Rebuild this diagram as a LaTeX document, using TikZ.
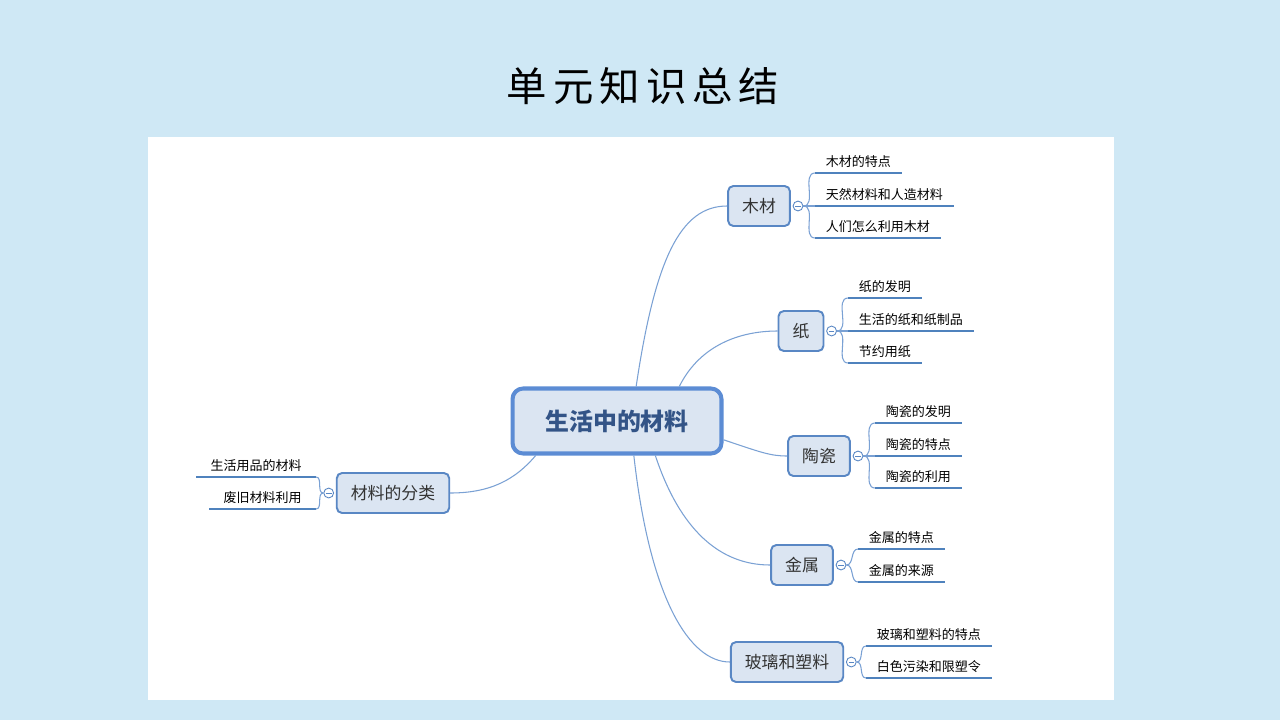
\documentclass[tikz,border=0pt]{standalone}
\usepackage{fontspec}
\setmainfont{Noto Sans CJK SC}
\newfontfamily\titlefont[LetterSpace=15]{Noto Sans CJK SC}
\usetikzlibrary{positioning}
\definecolor{skyback}{rgb}{0.81,0.91,0.96}
\definecolor{paleblue}{rgb}{0.86,0.90,0.95}
\definecolor{edgeblue}{rgb}{0.35,0.53,0.77}
\definecolor{coreblue}{rgb}{0.36,0.55,0.83}
\definecolor{coretext}{rgb}{0.20,0.33,0.53}
\definecolor{linkblue}{rgb}{0.48,0.63,0.83}
\definecolor{barblue}{rgb}{0.31,0.51,0.74}
\tikzset{
  core/.style={
    rounded corners=6pt,
    draw=coreblue,
    line width=2.3pt,
    fill=paleblue,
    minimum width=4.18cm,
    minimum height=1.3cm,
    text=coretext,
    font=\fontsize{13.6}{16}\selectfont\bfseries
  },
  branch/.style={
    rounded corners=3pt,
    draw=edgeblue,
    line width=1.1pt,
    fill=paleblue,
    minimum height=.8cm,
    inner xsep=8pt,
    text=black!80,
    font=\fontsize{9.6}{12}\selectfont
  },
  fold/.style={
    circle,
    draw=edgeblue,
    fill=white,
    line width=.5pt,
    minimum size=5.6pt,
    inner sep=0pt,
    path picture={\draw[edgeblue,line width=.5pt]
      ([xshift=1.2pt]path picture bounding box.west) --
      ([xshift=-1.2pt]path picture bounding box.east);}
  },
  leaf/.style={
    inner xsep=6pt,
    inner ysep=3pt,
    text=black,
    font=\fontsize{7.4}{9}\selectfont
  },
  link/.style={
    linkblue,
    line width=.6pt
  },
  uline/.style={
    barblue,
    line width=1.6pt
  }
}
\begin{document}
\begin{tikzpicture}[x=0.02cm,y=-0.02cm,node distance=1pt]
\fill[skyback] (0,0) rectangle (1280,720);
\fill[white] (148,137) rectangle (1114,700);
\node[font=\titlefont\fontsize{23}{28}\selectfont] (title) at (643,86) {单元知识总结};

\node[core] (core) at (617,421) {生活中的材料};

\node[branch] (wood) at (759,206) {木材};
\node[branch] (paper) at (801,331) {纸};
\node[branch] (china) at (819,456) {陶瓷};
\node[branch] (metal) at (802,565) {金属};
\node[branch] (glass) at (787,662) {玻璃和塑料};
\node[branch] (kinds) at (393,493) {材料的分类};

\draw[link] (core.61) .. controls (655,260) and (680,206) .. (wood.west);
\draw[link] (core.29) .. controls (700,345) and (740,331) .. (paper.west);
\draw[link] (core.-10) .. controls (760,452) and (770,456) .. (china.west);
\draw[link] (core.-42) .. controls (680,530) and (720,565) .. (metal.west);
\draw[link] (core.-64) .. controls (650,600) and (690,662) .. (glass.west);
\draw[link] (core.203) .. controls (515,480) and (490,493) .. (kinds.east);

\node[fold,right=of wood] (fwood) {};
\node[fold,right=of paper] (fpaper) {};
\node[fold,right=of china] (fchina) {};
\node[fold,right=of metal] (fmetal) {};
\node[fold,right=of glass] (fglass) {};
\node[fold,left=of kinds] (fkinds) {};

% wood
\node[leaf,anchor=south west] (w1) at (815,173) {木材的特点};
\node[leaf,anchor=south west] (w2) at (815,206) {天然材料和人造材料};
\node[leaf,anchor=south west] (w3) at (815,238) {人们怎么利用木材};
% paper
\node[leaf,anchor=south west] (p1) at (848,298) {纸的发明};
\node[leaf,anchor=south west] (p2) at (848,331) {生活的纸和纸制品};
\node[leaf,anchor=south west] (p3) at (848,363) {节约用纸};
% china
\node[leaf,anchor=south west] (c1) at (875,423) {陶瓷的发明};
\node[leaf,anchor=south west] (c2) at (875,456) {陶瓷的特点};
\node[leaf,anchor=south west] (c3) at (875,488) {陶瓷的利用};
% metal
\node[leaf,anchor=south west] (m1) at (858,549) {金属的特点};
\node[leaf,anchor=south west] (m2) at (858,582) {金属的来源};
% glass
\node[leaf,anchor=south west] (g1) at (866,646) {玻璃和塑料的特点};
\node[leaf,anchor=south west] (g2) at (866,678) {白色污染和限塑令};
% kinds
\node[leaf,anchor=south east,inner xsep=8pt] (k1) at (316,477) {生活用品的材料};
\node[leaf,anchor=south east,inner xsep=8pt] (k2) at (316,509) {废旧材料利用};

\draw[uline] (w1.south west) -- (w1.south east);
\draw[uline] (w2.south west) -- (w2.south east);
\draw[uline] (w3.south west) -- (w3.south east);
\draw[uline] (p1.south west) -- (p1.south east);
\draw[uline] (p2.south west) -- (p2.south east);
\draw[uline] (p3.south west) -- (p3.south east);
\draw[uline] (c1.south west) -- (c1.south east);
\draw[uline] (c2.south west) -- (c2.south east);
\draw[uline] (c3.south west) -- (c3.south east);
\draw[uline] (m1.south west) -- (m1.south east);
\draw[uline] (m2.south west) -- (m2.south east);
\draw[uline] (g1.south west) -- (g1.south east);
\draw[uline] (g2.south west) -- (g2.south east);
\draw[uline] (k1.south west) -- (k1.south east);
\draw[uline] (k2.south west) -- (k2.south east);

\draw[link] (fwood.east) to[out=0,in=180] (w1.south west);
\draw[link] (fwood.east) -- (w2.south west);
\draw[link] (fwood.east) to[out=0,in=180] (w3.south west);
\draw[link] (fpaper.east) to[out=0,in=180] (p1.south west);
\draw[link] (fpaper.east) -- (p2.south west);
\draw[link] (fpaper.east) to[out=0,in=180] (p3.south west);
\draw[link] (fchina.east) to[out=0,in=180] (c1.south west);
\draw[link] (fchina.east) -- (c2.south west);
\draw[link] (fchina.east) to[out=0,in=180] (c3.south west);
\draw[link] (fmetal.east) to[out=0,in=180] (m1.south west);
\draw[link] (fmetal.east) to[out=0,in=180] (m2.south west);
\draw[link] (fglass.east) to[out=0,in=180] (g1.south west);
\draw[link] (fglass.east) to[out=0,in=180] (g2.south west);
\draw[link] (fkinds.west) to[out=180,in=0] (k1.south east);
\draw[link] (fkinds.west) to[out=180,in=0] (k2.south east);
\end{tikzpicture}
\end{document}
